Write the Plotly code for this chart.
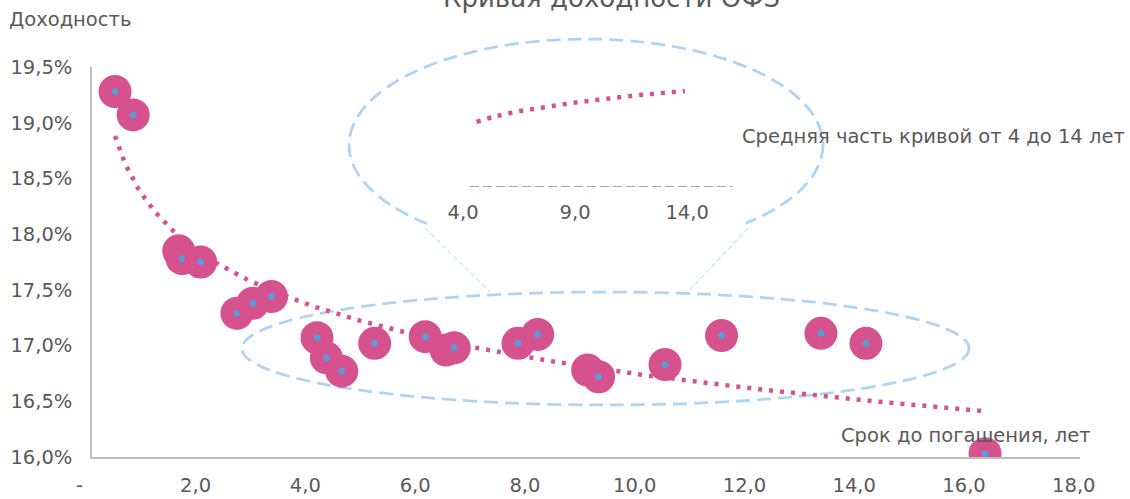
import numpy as np
import plotly.graph_objects as go

# ---- data ----
maturity = [0.42, 0.75, 1.58, 1.64, 1.98, 2.64, 2.93, 3.27, 4.10, 4.27, 4.55, 5.15,
            6.07, 6.45, 6.60, 7.76, 8.12, 9.03, 9.23, 10.44, 11.47, 13.28, 14.10, 16.27]
yields = [19.28, 19.07, 17.85, 17.78, 17.75, 17.29, 17.38, 17.44, 17.07, 16.89, 16.77, 17.02,
          17.08, 16.96, 16.98, 17.02, 17.10, 16.78, 16.72, 16.83, 17.09, 17.11, 17.02, 16.03]

x_ticks = [0, 2, 4, 6, 8, 10, 12, 14, 16, 18]
x_ticktext = ["-", "2,0", "4,0", "6,0", "8,0", "10,0", "12,0", "14,0", "16,0", "18,0"]
y_ticks = [16.0, 16.5, 17.0, 17.5, 18.0, 18.5, 19.0, 19.5]
y_ticktext = ["16,0%", "16,5%", "17,0%", "17,5%", "18,0%", "18,5%", "19,0%", "19,5%"]

# inset ("middle part of the curve, 4 to 14 years")
inset_x = [4.6, 5.5, 6.5, 7.5, 8.5, 9.5, 10.5, 11.5, 12.5, 13.9]
inset_y = [0.652, 0.709, 0.757, 0.793, 0.828, 0.858, 0.884, 0.911, 0.932, 0.960]
inset_ticks = [4, 9, 14]
inset_ticktext = ["4,0", "9,0", "14,0"]

# ---- style ----
PINK = "#D6528F"
BLUE = "#5B9BD5"
ELL = "#ADD4F2"
GREY_TXT = "#595959"
FONT = "DejaVu Sans"
FS = 19.5
NB = "\u2007"

# logarithmic trendline fitted to the data (as in the original spreadsheet)
b, a = np.polyfit(np.log(maturity), yields, 1)
tx = np.linspace(min(maturity), max(maturity), 300)
ty = a + b * np.log(tx)

fig = go.Figure()
fig.add_trace(go.Scatter(x=tx, y=ty, mode="lines", hoverinfo="skip",
                         line=dict(color=PINK, width=4.5, dash="4px,7px"), showlegend=False))
fig.add_trace(go.Scatter(x=maturity, y=yields, mode="markers", showlegend=False,
                         marker=dict(size=20, color=BLUE, line=dict(color=PINK, width=13))))
fig.add_trace(go.Scatter(x=inset_x, y=inset_y, mode="lines", xaxis="x2", yaxis="y2",
                         line=dict(color=PINK, width=4.5, dash="4px,7px", shape="spline"),
                         showlegend=False, hoverinfo="skip"))

W, H = 1130, 499
L, R, T, B = 92, 50, 67, 42
PW, PH = W - L - R, H - T - B


def px(xp):
    return (xp - L) / PW


def py(yp):
    return (H - B - yp) / PH


shapes = [
    # magnifier ellipse (top)
    dict(type="circle", xref="paper", yref="paper", x0=px(349), x1=px(823), y0=py(251), y1=py(39),
         line=dict(color=ELL, width=2.75, dash="14px,7px"), layer="below"),
    # white box of the inset picture
    dict(type="rect", xref="paper", yref="paper", x0=px(430), x1=px(746), y0=py(258), y1=py(72),
         fillcolor="white", line=dict(width=0), layer="below"),
    # ellipse around the middle of the curve
    dict(type="circle", xref="paper", yref="paper", x0=px(242), x1=px(969), y0=py(405), y1=py(292),
         line=dict(color=ELL, width=2.75, dash="14px,7px"), layer="below"),
    # connector lines
    dict(type="line", xref="paper", yref="paper", x0=px(425), y0=py(228), x1=px(490), y1=py(292),
         line=dict(color=ELL, width=1, dash="5px,3px"), layer="below"),
    dict(type="line", xref="paper", yref="paper", x0=px(748), y0=py(228), x1=px(688), y1=py(292),
         line=dict(color=ELL, width=1, dash="5px,3px"), layer="below"),
    # inset axis line
    dict(type="line", xref="x2", yref="y2", x0=4.31, x1=16.05, y0=0, y1=0,
         line=dict(color="#A6A6A6", width=2, dash="9px,4px"), layer="below"),
]

annotations = [
    dict(text="Кривая доходности ОФЗ", xref="paper", yref="paper", x=px(611), y=py(-2),
         xanchor="center", yanchor="middle", showarrow=False,
         font=dict(family=FONT, size=26, color=GREY_TXT)),
    dict(text="Доходность", xref="paper", yref="paper", x=px(7), y=py(19),
         xanchor="left", yanchor="middle", showarrow=False,
         font=dict(family=FONT, size=FS, color=GREY_TXT)),
    dict(text="Срок до погашения, лет", xref="paper", yref="paper", x=px(1093), y=py(435),
         xanchor="right", yanchor="middle", showarrow=False,
         font=dict(family=FONT, size=FS, color=GREY_TXT)),
    dict(text="Средняя часть кривой от 4 до 14 лет", xref="paper", yref="paper", x=px(1127), y=py(136),
         xanchor="right", yanchor="middle", showarrow=False,
         font=dict(family=FONT, size=FS, color=GREY_TXT)),
]

x_labels = [t + NB for t in x_ticktext]
x_labels[0] = x_ticktext[0] + NB + NB

fig.update_layout(
    width=W, height=H,
    margin=dict(l=L, r=R, t=T, b=B, autoexpand=False),
    paper_bgcolor="white", plot_bgcolor="rgba(0,0,0,0)",
    font=dict(family=FONT, size=FS, color=GREY_TXT),
    xaxis=dict(range=[0, 18], tickvals=x_ticks, ticktext=x_labels,
               showgrid=False, zeroline=False, showline=True, linecolor="#BFBFBF", linewidth=1.5,
               ticks="", ticklabelstandoff=10, tickfont=dict(family=FONT, size=FS, color=GREY_TXT)),
    yaxis=dict(range=[16, 19.5], tickvals=y_ticks, ticktext=y_ticktext,
               showgrid=False, zeroline=False, showline=True, linecolor="#BFBFBF", linewidth=1.5,
               ticks="", ticklabelstandoff=14, tickfont=dict(family=FONT, size=FS, color=GREY_TXT)),
    xaxis2=dict(anchor="y2", domain=[px(455), px(733)], range=[3.64, 16.05], tickvals=inset_ticks,
                ticktext=inset_ticktext, showgrid=False, zeroline=False, showline=False, ticks="",
                ticklabelstandoff=11, tickfont=dict(family=FONT, size=FS, color=GREY_TXT)),
    yaxis2=dict(anchor="x2", domain=[py(187), py(87)], range=[0, 1], visible=False),
    shapes=shapes, annotations=annotations,
)

fig.write_html("out.html")
